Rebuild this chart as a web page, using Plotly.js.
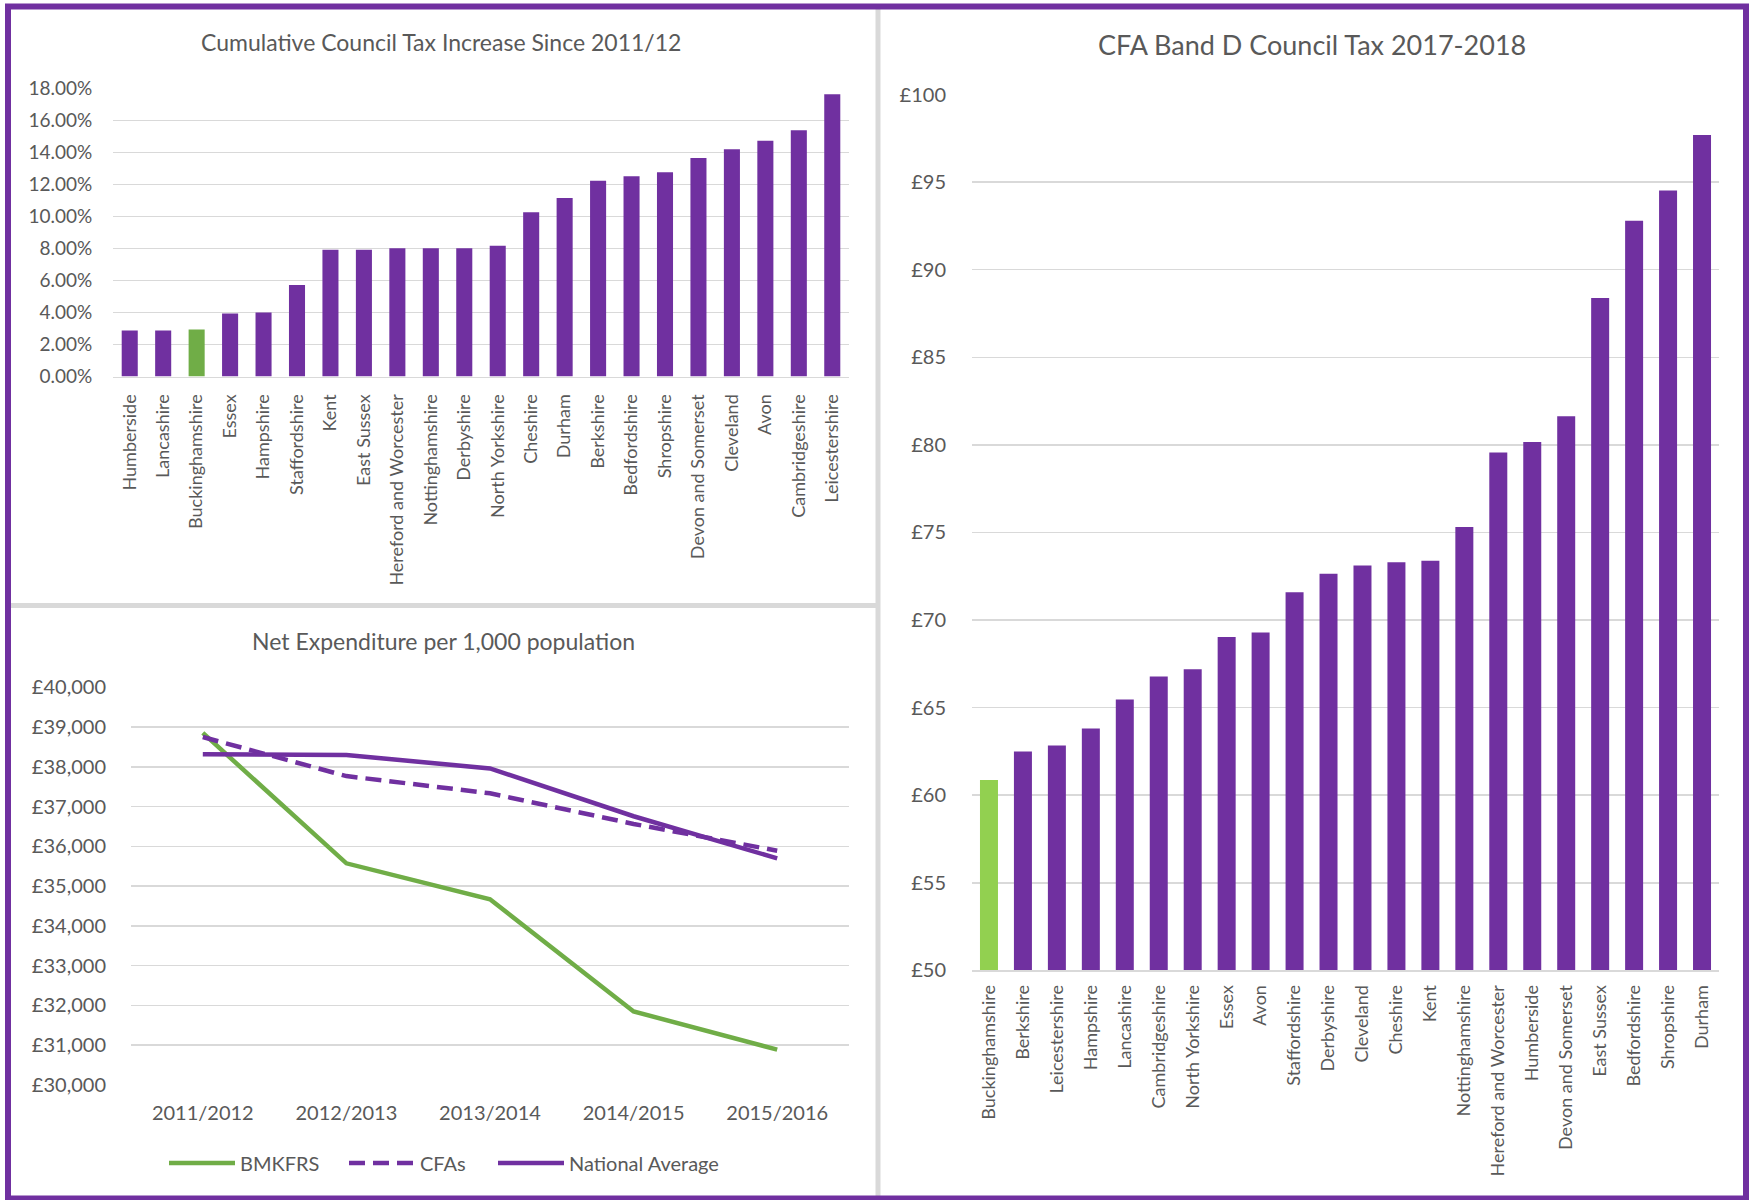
<!DOCTYPE html>
<html>
<head>
<meta charset="utf-8">
<script src="https://cdn.plot.ly/plotly-3.0.1.min.js"></script>
<style>
  html, body { margin: 0; padding: 0; background: #ffffff; }
  #chart { width: 1750px; height: 1200px; }
</style>
</head>
<body>
<div id="chart"></div>
<script>
// ---------- DATA ----------
const taxIncreaseAuthorities = ["Humberside", "Lancashire", "Buckinghamshire", "Essex", "Hampshire", "Staffordshire", "Kent", "East Sussex", "Hereford and Worcester", "Nottinghamshire", "Derbyshire", "North Yorkshire", "Cheshire", "Durham", "Berkshire", "Bedfordshire", "Shropshire", "Devon and Somerset", "Cleveland", "Avon", "Cambridgeshire", "Leicestershire"];
const taxIncreasePct = [2.88, 2.88, 2.95, 3.94, 4.01, 5.73, 7.93, 7.93, 8.03, 8.03, 8.03, 8.18, 10.27, 11.17, 12.24, 12.53, 12.77, 13.67, 14.21, 14.74, 15.40, 17.66];

const bandDAuthorities = ["Buckinghamshire", "Berkshire", "Leicestershire", "Hampshire", "Lancashire", "Cambridgeshire", "North Yorkshire", "Essex", "Avon", "Staffordshire", "Derbyshire", "Cleveland", "Cheshire", "Kent", "Nottinghamshire", "Hereford and Worcester", "Humberside", "Devon and Somerset", "East Sussex", "Bedfordshire", "Shropshire", "Durham"];
const bandDTax = [60.87, 62.49, 62.84, 63.81, 65.46, 66.77, 67.19, 69.03, 69.29, 71.59, 72.64, 73.12, 73.30, 73.39, 75.31, 79.56, 80.17, 81.64, 88.39, 92.79, 94.52, 97.69];

const years = ["2011/2012", "2012/2013", "2013/2014", "2014/2015", "2015/2016"];
const bmkfrs = [38855, 35573, 34668, 31848, 30886];
const cfas = [38749, 37767, 37334, 36564, 35890];
const nationalAverage = [38316, 38296, 37960, 36757, 35698];

const highlight = "Buckinghamshire";

// ---------- STYLE ----------
const W = 1750, H = 1200;
const PURPLE = "#7030A0";
const GREEN_DARK = "#70AD47";
const GREEN_LIGHT = "#92D050";
const TXT = "#595959";
const GRID = "#D9D9D9";
const FONT = "Lato, 'Open Sans', sans-serif";
const px = v => v / W;
const py = v => 1 - v / H;

const traces = [
  {
    type: "bar", x: taxIncreaseAuthorities, y: taxIncreasePct,
    xaxis: "x", yaxis: "y", width: 0.48,
    marker: { color: taxIncreaseAuthorities.map(c => c === highlight ? GREEN_DARK : PURPLE) },
    showlegend: false, hoverinfo: "x+y"
  },
  {
    type: "scatter", mode: "lines", name: "BMKFRS", x: years, y: bmkfrs,
    xaxis: "x2", yaxis: "y2", legend: "legend",
    line: { color: GREEN_DARK, width: 4.5 }
  },
  {
    type: "scatter", mode: "lines", name: "CFAs", x: years, y: cfas,
    xaxis: "x2", yaxis: "y2", legend: "legend2",
    line: { color: PURPLE, width: 4.5, dash: "16px,8px" }
  },
  {
    type: "scatter", mode: "lines", name: "National Average", x: years, y: nationalAverage,
    xaxis: "x2", yaxis: "y2", legend: "legend3",
    line: { color: PURPLE, width: 4.5 }
  },
  {
    type: "bar", x: bandDAuthorities, y: bandDTax,
    xaxis: "x3", yaxis: "y3", width: 0.53,
    marker: { color: bandDAuthorities.map(c => c === highlight ? GREEN_LIGHT : PURPLE) },
    showlegend: false, hoverinfo: "x+y"
  }
];

const tickFont = { family: FONT, size: 19, color: TXT };
const catFont = { family: FONT, size: 18, color: TXT };
const hidden = "rgba(0,0,0,0)";
const legendBase = {
  orientation: "h", xanchor: "left", y: py(1163), yanchor: "middle",
  font: { family: FONT, size: 20, color: TXT }, itemwidth: 66, bgcolor: "rgba(0,0,0,0)"
};

const layout = {
  width: W, height: H,
  margin: { l: 0, r: 0, t: 0, b: 0, pad: 0 },
  paper_bgcolor: "#ffffff", plot_bgcolor: "#ffffff",
  font: { family: FONT, color: TXT },
  showlegend: true,
  legend: Object.assign({}, legendBase, { x: px(164) }),
  legend2: Object.assign({}, legendBase, { x: px(344) }),
  legend3: Object.assign({}, legendBase, { x: px(493) }),
  xaxis: {
    domain: [px(113), px(849)], anchor: "y", type: "category",
    tickangle: -90, tickfont: catFont, ticks: "outside", ticklen: 9, tickcolor: hidden,
    showgrid: false, showline: true, linecolor: GRID, linewidth: 1.5, fixedrange: true
  },
  yaxis: {
    domain: [py(376.6), py(88.7)], anchor: "x", range: [0, 18], dtick: 2,
    tickformat: ".2f", ticksuffix: "%", tickfont: tickFont,
    ticks: "outside", ticklen: 16, tickcolor: hidden,
    showgrid: true, gridcolor: GRID, gridwidth: 1.5, zeroline: false, showline: false, fixedrange: true
  },
  xaxis2: {
    domain: [px(131), px(849)], anchor: "y2", type: "category", range: [-0.5, 4.5],
    tickfont: { family: FONT, size: 20, color: TXT }, ticks: "outside", ticklen: 10, tickcolor: hidden,
    showgrid: false, showline: false, fixedrange: true
  },
  yaxis2: {
    domain: [py(1084.9), py(687.3)], anchor: "x2", range: [30000, 40000], dtick: 1000,
    tickprefix: "£", tickformat: ",d", tickfont: { family: FONT, size: 20, color: TXT },
    ticks: "outside", ticklen: 20, tickcolor: hidden,
    showgrid: true, gridcolor: GRID, gridwidth: 1.5, zeroline: false, showline: false, fixedrange: true
  },
  xaxis3: {
    domain: [px(972), px(1719)], anchor: "y3", type: "category",
    tickangle: -90, tickfont: catFont, ticks: "outside", ticklen: 6, tickcolor: hidden,
    showgrid: false, showline: true, linecolor: GRID, linewidth: 1.5, fixedrange: true
  },
  yaxis3: {
    domain: [py(970.4), py(94.5)], anchor: "x3", range: [50, 100], dtick: 5,
    tickprefix: "£", tickfont: { family: FONT, size: 20, color: TXT },
    ticks: "outside", ticklen: 21, tickcolor: hidden,
    showgrid: true, gridcolor: GRID, gridwidth: 1.5, zeroline: false, showline: false, fixedrange: true
  },
  annotations: [
    { text: "Cumulative Council Tax Increase Since 2011/12", xref: "paper", yref: "paper",
      x: px(441), y: py(42), xanchor: "center", yanchor: "middle", showarrow: false,
      font: { family: FONT, size: 23, color: TXT } },
    { text: "Net Expenditure per 1,000 population", xref: "paper", yref: "paper",
      x: px(443), y: py(641), xanchor: "center", yanchor: "middle", showarrow: false,
      font: { family: FONT, size: 23, color: TXT } },
    { text: "CFA Band D Council Tax 2017-2018", xref: "paper", yref: "paper",
      x: px(1312), y: py(45), xanchor: "center", yanchor: "middle", showarrow: false,
      font: { family: FONT, size: 27, color: TXT } }
  ],
  shapes: [
    // gray separators between panels
    { type: "line", xref: "paper", yref: "paper", x0: px(878), x1: px(878), y0: py(9), y1: py(1197),
      line: { color: GRID, width: 5 }, layer: "below" },
    { type: "line", xref: "paper", yref: "paper", x0: px(11), x1: px(876), y0: py(605.5), y1: py(605.5),
      line: { color: GRID, width: 5 }, layer: "below" },
    // purple outer frame
    { type: "rect", xref: "paper", yref: "paper", x0: px(8), x1: px(1746), y0: py(1198.5), y1: py(6.5),
      line: { color: PURPLE, width: 6 }, fillcolor: "rgba(0,0,0,0)" }
  ]
};

Plotly.newPlot("chart", traces, layout, { displayModeBar: false, staticPlot: true });
</script>
</body>
</html>
